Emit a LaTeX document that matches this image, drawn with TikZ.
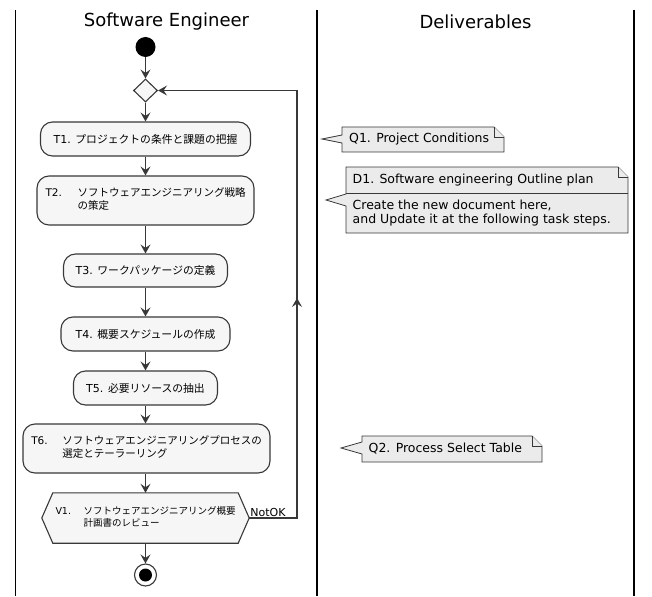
\documentclass[tikz,border=0pt]{standalone}
\usepackage{fontspec}
\setmainfont{DejaVu Sans}
\newfontfamily\jp{Noto Sans CJK JP}
\usetikzlibrary{arrows.meta,shapes.geometric,backgrounds}
\definecolor{ln}{HTML}{383838}
\definecolor{boxfill}{HTML}{F6F6F6}
\definecolor{notefill}{HTML}{EBEBEB}
\newcommand\twoline[6]{{\fontsize{#5}{#6}\selectfont\begin{tabular}{@{}p{#2}@{}l@{}}#1 & \jp #3\\ & \jp #4\end{tabular}}}
\begin{document}
\begin{tikzpicture}[x=1pt,y=-1pt,
  lane/.style={draw=black, line width=1.6pt},
  lanetitle/.style={font=\fontsize{18}{22}\selectfont, inner sep=0pt},
  arr/.style={draw=ln, line width=1.1pt, -{Stealth[length=9pt,width=10pt,inset=3.5pt]}},
  task/.style={draw=ln, fill=boxfill, rounded corners=12pt, line width=1.1pt, inner sep=0pt, font=\fontsize{11}{13}\selectfont},
  hexa/.style={draw=ln, fill=boxfill, line width=1.1pt},
  note/.style={draw=ln, fill=notefill, line width=0.8pt},
  notetext/.style={inner sep=0pt, font=\fontsize{12.5}{14}\selectfont, align=left},
  startdot/.style={circle, fill=black, minimum size=20pt, inner sep=0pt},
  enddot/.style={circle, draw=ln, fill=white, line width=1.1pt, minimum size=22pt, inner sep=0pt},
  decision/.style={diamond, draw=ln, fill=boxfill, line width=1.1pt, minimum width=24pt, minimum height=23pt, inner sep=0pt}
]
\useasboundingbox (0,0) rectangle (652,596);

% swimlanes
\draw[lane] (15.5,10) -- (15.5,596);
\draw[lane] (317,10) -- (317,596);
\draw[lane] (634,10) -- (634,596);
\node[lanetitle] (h1) at (166.5,22) {Software Engineer};
\node[lanetitle] (h2) at (475.5,22) {Deliverables};

% activity flow
\node[startdot] (s) at (145.5,47) {};
\node[decision] (d) at (145.5,90.5) {};
\node[task, minimum width=210pt, minimum height=34pt] (t1) at (145.5,139) {T1. {\jp\fontsize{10.8}{13}\selectfont プロジェクトの条件と課題の把握}};
\node[task, minimum width=217pt, minimum height=49pt] (t2) at (145.5,200.5) {\twoline{T2.}{32pt}{ソフトウェアエンジニアリング戦略}{の策定}{10.5}{13}};
\node[task, minimum width=164pt, minimum height=33pt] (t3) at (145.5,270.5) {T3. {\jp\fontsize{10.8}{13}\selectfont ワークパッケージの定義}};
\node[task, minimum width=169pt, minimum height=34pt] (t4) at (145.5,334) {T4. {\jp\fontsize{10.8}{13}\selectfont 概要スケジュールの作成}};
\node[task, minimum width=144pt, minimum height=34pt] (t5) at (145.5,388) {T5. {\jp\fontsize{10.8}{13}\selectfont 必要リソースの抽出}};
\node[task, minimum width=247pt, minimum height=49pt] (t6) at (146.5,448.5) {\twoline{T6.}{31pt}{ソフトウェアエンジニアリングプロセスの}{選定とテーラーリング}{10.5}{13}};
\node[inner sep=0pt, minimum width=185pt, minimum height=50pt, font=\fontsize{11}{12}\selectfont] (v1) at (145.5,518) {\twoline{V1.}{28pt}{ソフトウェアエンジニアリング概要}{計画書のレビュー}{9.5}{12}};
\begin{scope}[on background layer]
  \draw[hexa] ([xshift=-11pt]v1.west) -- (v1.north west) -- (v1.north east) -- ([xshift=11pt]v1.east) -- (v1.south east) -- (v1.south west) -- cycle;
\end{scope}
\node[enddot] (e) at (145.5,575) {};
\node[circle, fill=black, minimum size=13pt, inner sep=0pt] (ei) at (e) {};

\draw[arr] (s) -- (d);
\draw[arr] (d) -- (t1);
\draw[arr] (t1) -- (t2);
\draw[arr] (t2) -- (t3);
\draw[arr] (t3) -- (t4);
\draw[arr] (t4) -- (t5);
\draw[arr] (t5) -- (t5 |- t6.north);
\draw[arr] (t6.south -| v1) -- (v1);
\draw[arr] (v1) -- (e);

% loop back
\coordinate (vr) at ([xshift=11pt]v1.east);
\coordinate (lb) at (297,518);
\coordinate (lt) at (297,90.5);
\coordinate (lm) at (297,298);
\draw[arr] (vr) -- (lb) -- (lt) -- (d);
\draw[arr] (lb) -- (lm);
\node[anchor=south west, inner sep=1pt, font=\fontsize{11}{12}\selectfont] (nok) at (vr) {NotOK};

% notes
\draw[note] (342,127) -- (494,127) -- (504,137) -- (504,152) -- (342,152) -- (342,143) -- (322,139) -- (342,135) -- cycle;
\draw[note] (494,127) -- (494,137) -- (504,137);
\node[notetext, anchor=west] (q1) at (349,139.5) {Q1. Project Conditions};

\draw[note] (346,167) -- (618,167) -- (628,177) -- (628,233) -- (346,233) -- (346,206) -- (326,200) -- (346,194) -- cycle;
\draw[note] (618,167) -- (618,177) -- (628,177);
\draw[note] (346,193) -- (628,193);
\node[notetext, anchor=west] (d1h) at (352.5,180.5) {D1. Software engineering Outline plan};
\node[notetext, anchor=west] (d1b) at (352.5,213) {Create the new document here,\\and Update it at the following task steps.};

\draw[note] (362,436) -- (532,436) -- (542,446) -- (542,462) -- (362,462) -- (362,454) -- (341,448) -- (362,442) -- cycle;
\draw[note] (532,436) -- (532,446) -- (542,446);
\node[notetext, anchor=west] (q2) at (368.5,449) {Q2. Process Select Table};
\end{tikzpicture}
\end{document}
